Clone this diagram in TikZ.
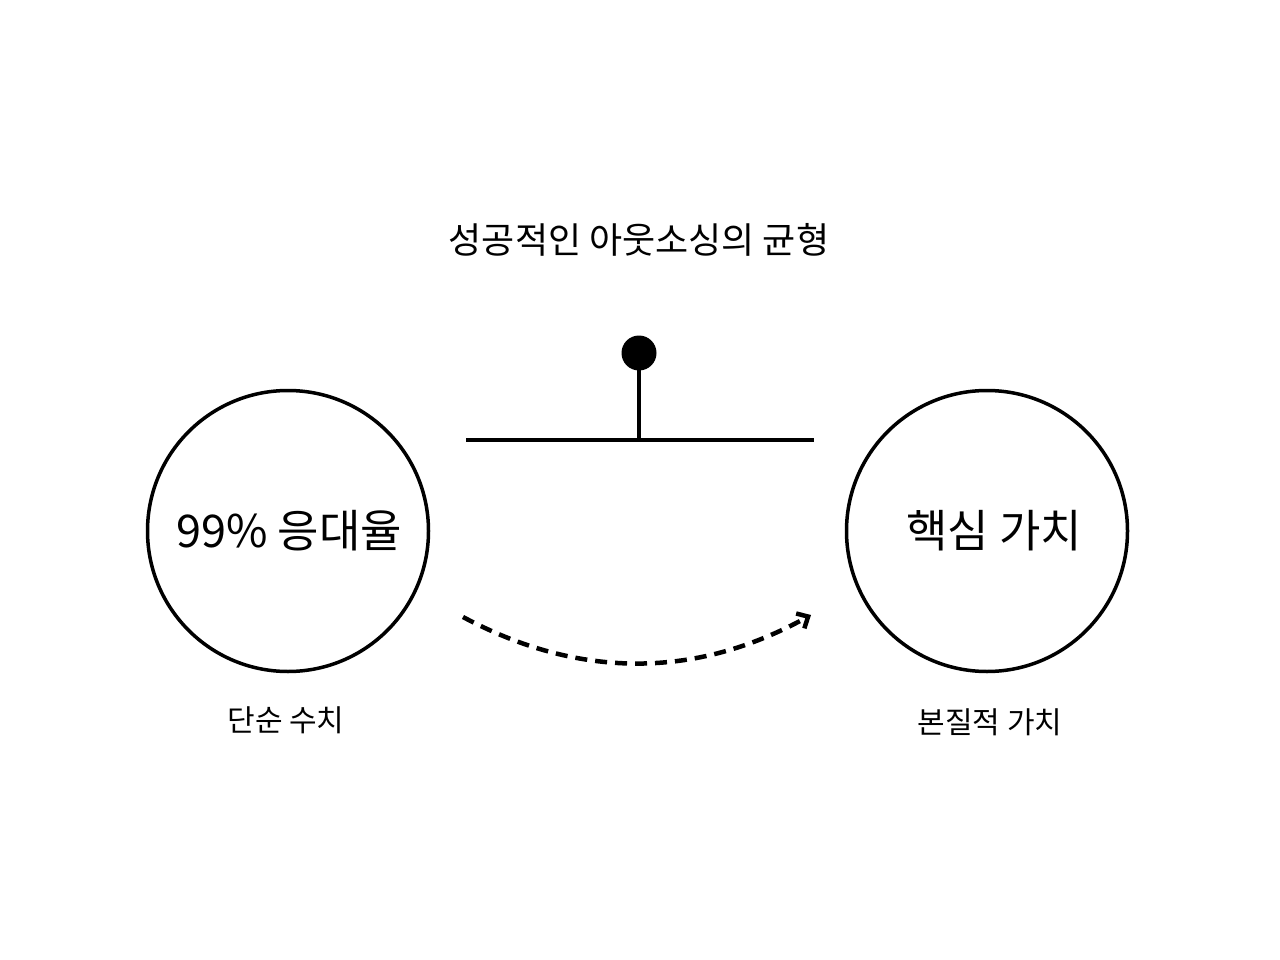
\documentclass[tikz,border=0pt]{standalone}
\usepackage{fontspec}
\newfontfamily\kr{Noto Sans CJK KR}
\usetikzlibrary{arrows.meta}
\begin{document}
\begin{tikzpicture}[x=1pt,y=-1pt,
  ring/.style={draw=black,line width=3.5pt,circle,minimum size=281pt,inner sep=0pt},
  bigtxt/.style={font=\kr\fontsize{45}{50}\selectfont},
  smalltxt/.style={font=\kr\fontsize{30}{34}\selectfont},
  beam/.style={line width=3.5pt}]
\useasboundingbox[fill=white] (0,0) rectangle (1280,960);
\node[font=\kr\fontsize{36}{42}\selectfont] (title) at (639,240) {성공적인 아웃소싱의 균형};
\node[ring] (left) at (288,531) {};
\node[bigtxt] (lt) at (289,531) {99\% 응대율};
\node[ring] (right) at (987,531) {};
\node[bigtxt] (rt) at (994,531) {핵심 가치};
\node[smalltxt] (ll) at (286,720) {단순 수치};
\node[smalltxt] (rl) at (990,722) {본질적 가치};
\coordinate (bl) at (466,440);
\coordinate (br) at (814,440);
\coordinate (bm) at (639,440);
\node[circle,fill=black,minimum size=35pt,inner sep=0pt] (dot) at (639,353) {};
\draw[beam] (bl) -- (br);
\draw[beam] (bm) -- (dot.center);
\coordinate (cs) at (463,617);
\coordinate (ce) at (811,615);
\draw[line width=4.5pt,dash pattern=on 12pt off 8pt,-{Straight Barb[length=9pt,width=17pt,line width=4.5pt]}]
  (cs) .. controls (579,679) and (695,679) .. (ce);
\end{tikzpicture}
\end{document}
